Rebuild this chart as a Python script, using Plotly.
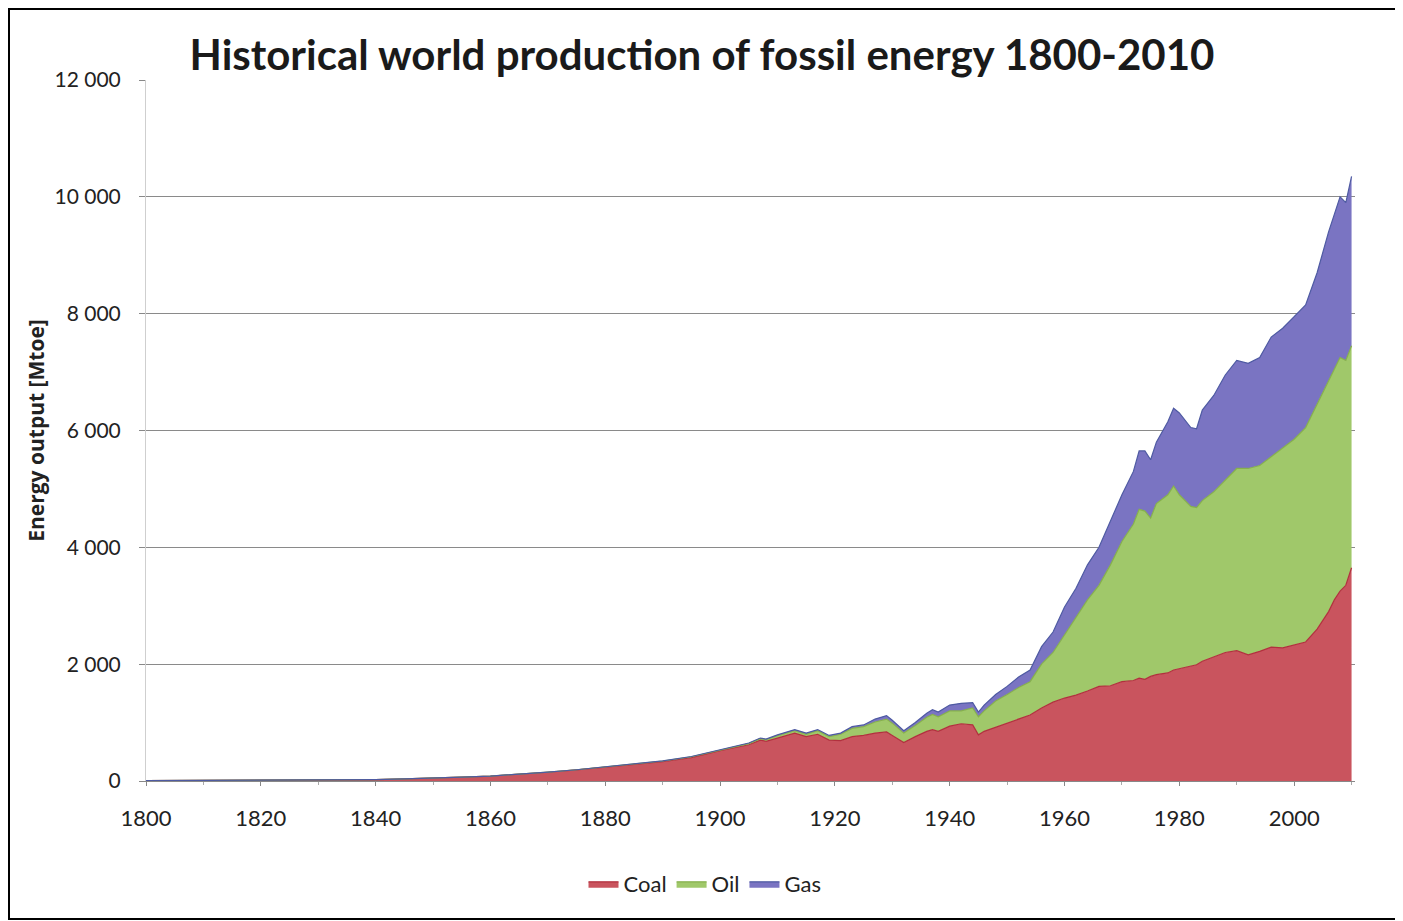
import plotly.graph_objects as go

years = [1800, 1810, 1820, 1830, 1840, 1845, 1850, 1855, 1860, 1865, 1870, 1875, 1880, 1885,
         1890, 1895, 1900, 1905, 1907, 1908, 1910, 1913, 1915, 1917, 1919, 1921, 1923, 1925,
         1927, 1929, 1930, 1932, 1934, 1936, 1937, 1938, 1940, 1942, 1944, 1945, 1946, 1948,
         1950, 1952, 1954, 1956, 1958, 1960, 1962, 1964, 1966, 1968, 1970, 1972, 1973, 1974,
         1975, 1976, 1978, 1979, 1980, 1982, 1983, 1984, 1986, 1988, 1990, 1992, 1994, 1996,
         1998, 2000, 2002, 2004, 2006, 2007, 2008, 2009, 2010]

coal = [5, 7, 10, 15, 25, 35, 45, 65, 85, 115, 150, 190, 235, 280,
        330, 400, 520, 620, 700, 680, 740, 820, 760, 800, 700, 690, 760, 780,
        820, 840, 780, 660, 760, 850, 880, 850, 940, 980, 960, 790, 850, 920,
        1000, 1060, 1130, 1250, 1350, 1420, 1470, 1540, 1620, 1630, 1700, 1720, 1760, 1740,
        1790, 1820, 1850, 1900, 1920, 1960, 1990, 2050, 2130, 2200, 2230, 2160, 2220, 2290,
        2280, 2330, 2380, 2600, 2900, 3100, 3250, 3350, 3650]

oil = [0, 0, 0, 0, 0, 0, 0, 0, 0, 1, 2, 3, 5, 7,
       12, 15, 10, 20, 25, 28, 35, 40, 40, 60, 60, 110, 140, 150,
       190, 220, 210, 160, 190, 240, 260, 250, 260, 220, 290, 310, 350, 450,
       480, 540, 570, 750, 850, 1080, 1310, 1560, 1730, 2070, 2400, 2680, 2890, 2880,
       2710, 2930, 3050, 3150, 2980, 2740, 2690, 2750, 2820, 2950, 3120, 3190, 3180, 3260,
       3420, 3520, 3670, 3850, 3950, 3950, 4000, 3850, 3800]

gas = [0, 0, 0, 0, 0, 0, 0, 0, 0, 0, 0, 0, 1, 2,
       3, 5, 10, 10, 10, 10, 15, 20, 20, 20, 20, 20, 30, 30,
       50, 60, 50, 40, 50, 70, 80, 80, 100, 130, 90, 80, 100, 110,
       140, 180, 200, 300, 350, 480, 520, 600, 650, 750, 800, 900, 1000, 1030,
       1000, 1050, 1250, 1330, 1400, 1350, 1350, 1550, 1650, 1800, 1850, 1800, 1850, 2050,
       2050, 2100, 2100, 2250, 2550, 2650, 2750, 2700, 2900]

y_ticks = [0, 2000, 4000, 6000, 8000, 10000, 12000]
y_tick_labels = ["0", "2 000", "4 000", "6 000", "8 000", "10 000", "12 000"]
x_ticks = [1800, 1820, 1840, 1860, 1880, 1900, 1920, 1940, 1960, 1980, 2000]

series = [
    ("Coal", coal, "#C9545E", "#B2303E"),
    ("Oil", oil, "#A0C86A", "#86B04C"),
    ("Gas", gas, "#7A74C2", "#4E5AA2"),
]

fig = go.Figure()
for name, vals, fill, edge in series:
    fig.add_trace(go.Scatter(
        x=years, y=vals, name=name, mode="lines",
        stackgroup="one", fillcolor=fill,
        line=dict(color=edge, width=1.2),
    ))

OFF = 8  # page body margin
W, H = 1403 - OFF, 921 - OFF
L, T = 146 - OFF, 80 - OFF
R = W - (1355 - OFF)
B = H - (781 - OFF)
pw, ph = W - L - R, H - T - B

def px(x):
    return (x - OFF - L) / pw

def py(y):
    return (H - B - (y - OFF)) / ph

fig.update_layout(
    width=W, height=H,
    margin=dict(l=L, r=R, t=T, b=B),
    paper_bgcolor="white", plot_bgcolor="white",
    font=dict(family="Lato, Open Sans, sans-serif", color="#222"),
    title=dict(text="Historical world production of fossil energy 1800-2010",
               x=px(702) * pw / W + L / W, xanchor="center",
               y=1 - (55 - OFF) / H, yanchor="middle",
               font=dict(size=42, color="#1a1a1a", family="Lato", weight="bold")),
    xaxis=dict(range=[1800, 2010.6], tickvals=x_ticks, ticks="outside", ticklen=4,
               tickcolor="#888", showline=True, linecolor="#888", linewidth=1,
               showgrid=False, zeroline=False, ticklabelstandoff=14,
               tickfont=dict(size=22, color="#222"),
               minor=dict(dtick=10, ticks="outside", ticklen=3, tickcolor="#aaa")),
    yaxis=dict(range=[0, 12000], tickvals=y_ticks, ticktext=y_tick_labels,
               showgrid=True, gridcolor="#8a8a8a", gridwidth=1,
               showline=True, linecolor="#cfcfcf", zeroline=False,
               ticks="outside", ticklen=6, tickcolor="#888", ticklabelstandoff=14,
               tickfont=dict(size=21, color="#222"),
               title=dict(text="Energy output [Mtoe]",
                          font=dict(size=21, color="#222", weight="bold", family="Open Sans"),
                          standoff=4)),
    legend=dict(orientation="h", x=px(705), xanchor="center", y=py(884), yanchor="middle",
                font=dict(size=22, color="#222"), itemwidth=30, traceorder="normal",
                bgcolor="rgba(0,0,0,0)"),
    showlegend=True,
    shapes=[dict(type="rect", xref="paper", yref="paper",
                 x0=px(9), x1=px(1397), y0=py(919), y1=py(9),
                 line=dict(color="black", width=2), fillcolor="rgba(0,0,0,0)", layer="below")],
)

fig.write_html("out.html")
